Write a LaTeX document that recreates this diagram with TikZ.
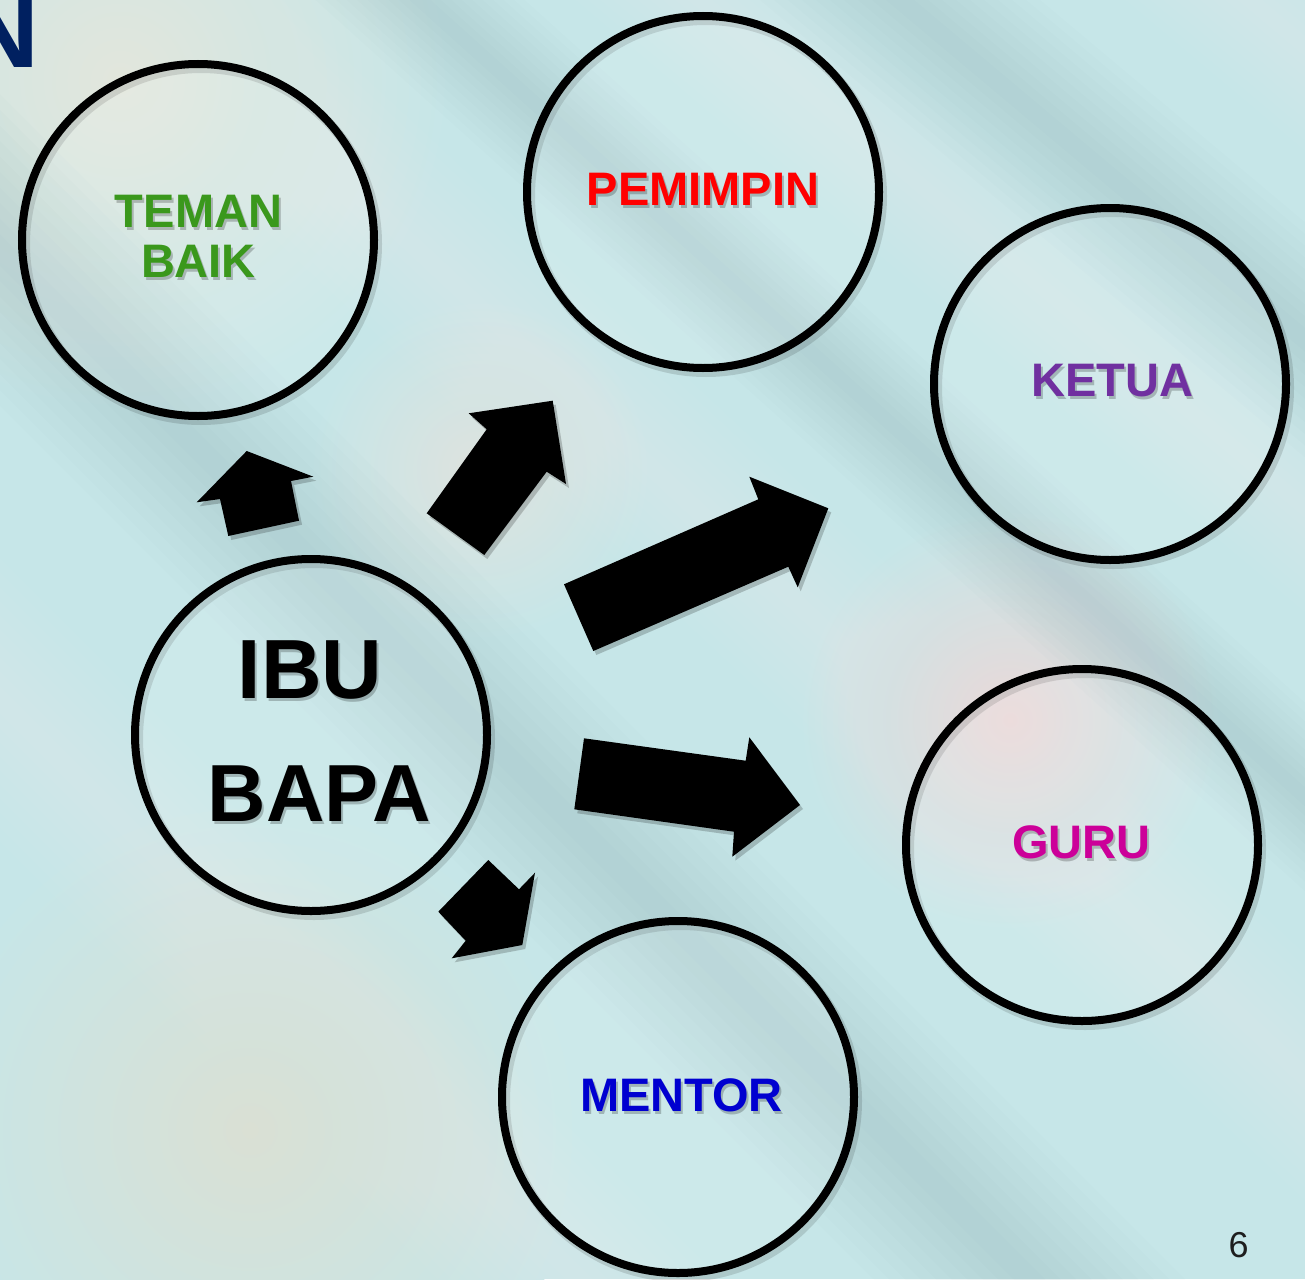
\documentclass[tikz,border=0pt]{standalone}
\usepackage{fontspec}
\setmainfont{Liberation Sans}
\definecolor{bgbase}{RGB}{198,230,232}
\definecolor{bgdark}{RGB}{120,165,172}
\definecolor{cgreen}{RGB}{58,152,28}
\definecolor{cred}{RGB}{255,0,0}
\definecolor{cpurple}{RGB}{112,48,160}
\definecolor{cmagenta}{RGB}{204,0,153}
\definecolor{cblue}{RGB}{0,0,208}
\definecolor{cnavy}{RGB}{0,32,96}
\newcommand{\softband}[4]{%
  \begin{scope}[shift={(#1,0)},rotate=#2]
    \foreach \k in {1,...,10}{\fill[#4,opacity=0.022] (-2500,-\k*#3/10) rectangle (3000,\k*#3/10);}
  \end{scope}}
\newcommand{\shlabel}[5]{%
  \node[font=#4, text=black, opacity=0.22, align=center, inner sep=0pt, xshift=2pt, yshift=-3pt] at (#2) {#5};
  \node[font=#4, text=#3, align=center, inner sep=0pt] (#1) at (#2) {#5};}
\tikzset{
  bubble/.style={circle, draw=black, line width=8pt, minimum size=352pt, inner sep=0pt, fill=white, fill opacity=0.12},
  bubshadow/.style={circle, draw=black, draw opacity=0.13, line width=10pt, minimum size=352pt, inner sep=0pt},
  blockarrow/.style={fill=black},
  arrshadow/.style={fill=black, opacity=0.2},
}
\newcommand{\lblfont}{\fontsize{47}{50}\selectfont\bfseries}
\newcommand{\ibufont}{\fontsize{84}{90}\selectfont\bfseries}
\newcommand{\bapafont}{\fontsize{81}{90}\selectfont\bfseries}
\begin{document}
\begin{tikzpicture}[x=1pt,y=-1pt]
\useasboundingbox (0,0) rectangle (1305,1279);
\clip (0,0) rectangle (1305,1279);
% background
\fill[bgbase] (0,0) rectangle (1305,1279);
\shade[inner color={rgb,255:red,226;green,230;blue,220}, outer color=bgbase] (120,80) circle (330);
\shade[inner color={rgb,255:red,218;green,224;blue,212}, outer color=bgbase] (250,1130) circle (330);
\shade[inner color={rgb,255:red,234;green,216;blue,216}, outer color=bgbase] (1010,720) circle (210);
\shade[inner color={rgb,255:red,222;green,226;blue,222}, outer color=bgbase] (480,470) circle (170);
\softband{900}{-40}{90}{bgdark}
\softband{420}{-42}{70}{bgdark}
\softband{-250}{-45}{110}{bgdark}
\softband{700}{-40}{80}{white}
\softband{150}{-43}{90}{white}
\softband{1250}{-40}{80}{white}
\softband{-700}{-45}{100}{white}
% corner letter and page number
\node[font=\fontsize{105}{110}\selectfont\bfseries, text=cnavy, anchor=base east, inner sep=0pt] (ncorner) at (40,68) {N};
\node[font=\fontsize{36}{40}\selectfont, text={rgb,255:red,30;green,30;blue,30}, inner sep=0pt] (pagenum) at (1238.5,1245) {6};
% circle shadows
\foreach \px/\py in {198/240,703/192,1110/384,311/735,1082/845,678/1097}
  \node[bubshadow] at (\px+3,\py+4) {};
% circles
\node[bubble] (teman) at (198,240) {};
\node[bubble] (pemimpin) at (703,192) {};
\node[bubble] (ketua) at (1110,384) {};
\node[bubble] (ibubapa) at (311,735) {};
\node[bubble] (guru) at (1082,845) {};
\node[bubble] (mentor) at (678,1097) {};
% labels
\shlabel{tTeman}{198.5,236.5}{cgreen}{\lblfont}{TEMAN\\BAIK}
\shlabel{tPemimpin}{703,189}{cred}{\lblfont}{PEMIMPIN}
\shlabel{tKetua}{1112,381}{cpurple}{\lblfont}{KETUA}
\shlabel{tGuru}{1081.5,842}{cmagenta}{\lblfont}{GURU}
\shlabel{tMentor}{681.5,1095}{cblue}{\lblfont}{MENTOR}
\shlabel{tIbu}{310,670.5}{black}{\ibufont}{IBU}
\shlabel{tBapa}{319.5,794}{black}{\bapafont}{BAPA}
% block arrows (shadows first)
\begin{scope}[shift={(3,4)}]
\fill[arrshadow] (246.7,451) -- (313.3,476.7) -- (291,481) -- (299,520.7) -- (228.3,536) -- (220,499) -- (196.7,502.3) -- cycle;
\fill[arrshadow] (552.7,400.7) -- (566,484) -- (546.7,471.7) -- (484.3,555) -- (426.7,513.3) -- (486.7,429.3) -- (468.7,413.3) -- cycle;
\fill[arrshadow] (828.3,508.3) -- (797.7,587.3) -- (788.3,566.7) -- (593.3,651) -- (564,584.3) -- (758.3,499.3) -- (749.3,476.7) -- cycle;
\fill[arrshadow] (800,805) -- (732.3,856.7) -- (734,831.7) -- (574.3,809.3) -- (584,738.3) -- (745.7,760.7) -- (749.3,737.3) -- cycle;
\fill[arrshadow] (522.3,945) -- (451.7,958.3) -- (465.7,940.7) -- (438.3,911.7) -- (488.3,860) -- (519,889.3) -- (535,872.7) -- cycle;
\end{scope}
\fill[blockarrow] (246.7,451) -- (313.3,476.7) -- (291,481) -- (299,520.7) -- (228.3,536) -- (220,499) -- (196.7,502.3) -- cycle;
\fill[blockarrow] (552.7,400.7) -- (566,484) -- (546.7,471.7) -- (484.3,555) -- (426.7,513.3) -- (486.7,429.3) -- (468.7,413.3) -- cycle;
\fill[blockarrow] (828.3,508.3) -- (797.7,587.3) -- (788.3,566.7) -- (593.3,651) -- (564,584.3) -- (758.3,499.3) -- (749.3,476.7) -- cycle;
\fill[blockarrow] (800,805) -- (732.3,856.7) -- (734,831.7) -- (574.3,809.3) -- (584,738.3) -- (745.7,760.7) -- (749.3,737.3) -- cycle;
\fill[blockarrow] (522.3,945) -- (451.7,958.3) -- (465.7,940.7) -- (438.3,911.7) -- (488.3,860) -- (519,889.3) -- (535,872.7) -- cycle;
\end{tikzpicture}
\end{document}
